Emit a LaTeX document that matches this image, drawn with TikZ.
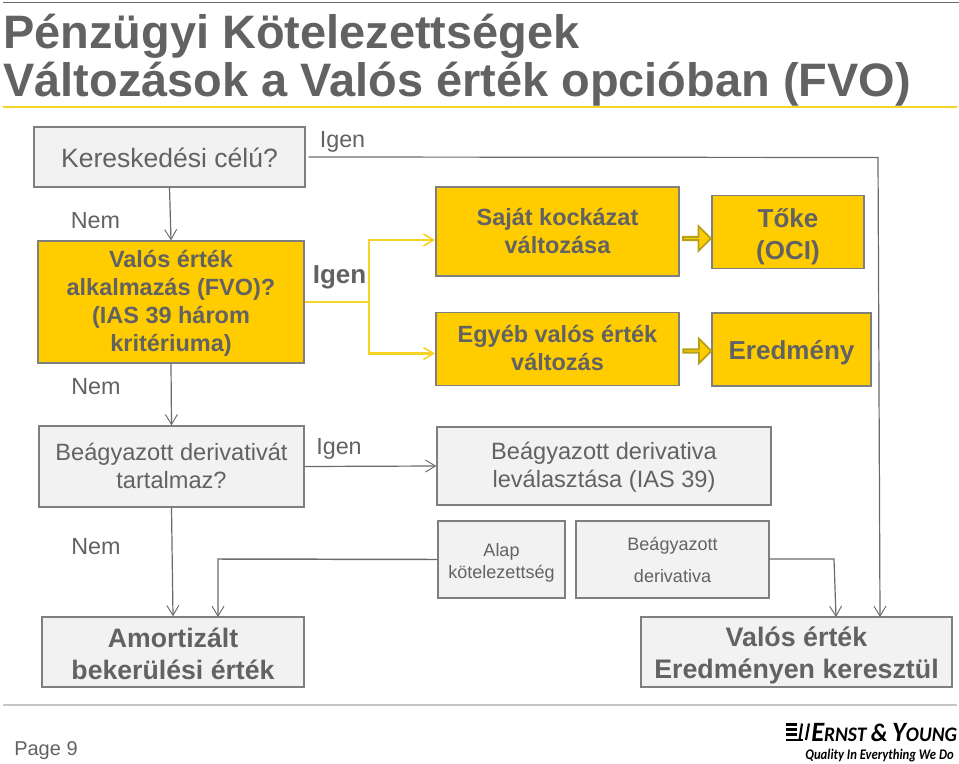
\documentclass[tikz,border=0pt]{standalone}
\usepackage{fontspec}
\setmainfont{Liberation Sans}
\newfontfamily\logofont{Carlito}
\usetikzlibrary{arrows.meta,shapes.arrows}
\newdimen\pxu \pxu=0.75pt
\definecolor{txt}{HTML}{626262}
\definecolor{edge}{HTML}{7F7F7F}
\definecolor{lne}{HTML}{6A6A6A}
\definecolor{ey}{HTML}{FFCC00}
\definecolor{eyline}{HTML}{F5D327}
\definecolor{gfill}{HTML}{F2F2F2}
\definecolor{blockedge}{HTML}{B5A01A}
\newcommand{\fsz}[2]{\fontsize{#1}{#2}\selectfont}
\newcommand{\lineup}[1]{\rule{0pt}{#1\baselineskip}}
\newcommand{\linedn}[1]{\rule[-#1\baselineskip]{0pt}{#1\baselineskip}}
\tikzset{
  x=0.75pt,y=-0.75pt,
  gbox/.style={draw=edge,line width=1pt,fill=gfill,text=txt,inner sep=0pt,align=center},
  ybox/.style={gbox,fill=ey},
  lbl/.style={text=txt,inner sep=0pt,align=center},
  conn/.style={draw=lne,line width=0.9pt,-{Straight Barb[length=7.5pt,width=9pt,line width=0.7pt]}},
  yconn/.style={draw=eyline,line width=1.7pt,-{Straight Barb[length=7.5pt,width=9pt,line width=1.2pt]}},
  blockarrow/.style={single arrow,draw=blockedge,fill=ey,line width=1.4pt,minimum height=21pt,minimum width=18.5pt,single arrow head extend=4.6pt,inner sep=0pt,outer sep=0pt}
}
\begin{document}
\begin{tikzpicture}
\useasboundingbox (0,0) rectangle (959,763);
% rules
\coordinate (ta) at (3,2.5); \coordinate (tb) at (959,2.5);
\draw[lne,line width=1pt] (ta) -- (tb);
\coordinate (ya) at (3,107); \coordinate (yb) at (957,107);
\draw[eyline,line width=2.2pt] (ya) -- (yb);
\coordinate (fa) at (3,705); \coordinate (fb) at (957,705);
\draw[gray!45,line width=1pt] (fa) -- (fb);
% title
\node[lbl,anchor=west,align=left,font=\bfseries\fsz{35.2}{36}] (title) at (3,60) {Pénzügyi Kötelezettségek\\Változások a Valós érték opcióban (FVO)};
% boxes
\node[gbox,minimum width=271\pxu,minimum height=60\pxu,font=\fsz{19.9}{24}] (ker) at (169.5,157) {\lineup{.82}Kereskedési célú?\linedn{.18}};
\node[ybox,minimum width=266\pxu,minimum height=122\pxu,font=\bfseries\fsz{17.6}{21}] (fvo) at (171,302) {\lineup{.78}Valós érték\\alkalmazás (FVO)?\\(IAS 39 három\\kritériuma)\linedn{.22}};
\node[ybox,minimum width=243\pxu,minimum height=89\pxu,font=\bfseries\fsz{17.6}{21}] (sajat) at (557.5,231.5) {\lineup{.78}Saját kockázat\\változása\linedn{.22}};
\node[ybox,minimum width=243\pxu,minimum height=73\pxu,font=\bfseries\fsz{17.6}{21}] (egyeb) at (557.5,349) {\lineup{.78}Egyéb valós érték\\változás\linedn{.22}};
\node[ybox,minimum width=152\pxu,minimum height=73\pxu,font=\bfseries\fsz{19.5}{24}] (toke) at (788,232) {\lineup{.86}Tőke\\(OCI)\linedn{.14}};
\node[ybox,minimum width=159\pxu,minimum height=73\pxu,font=\bfseries\fsz{19.5}{24}] (ered) at (791.5,349.5) {\lineup{.82}Eredmény\linedn{.18}};
\node[gbox,minimum width=265\pxu,minimum height=81\pxu,font=\fsz{17.7}{21}] (beagy) at (171.5,466.5) {\lineup{.78}Beágyazott derivativát\\tartalmaz?\linedn{.22}};
\node[gbox,minimum width=334\pxu,minimum height=78\pxu,font=\fsz{17.7}{21}] (lev) at (604,466) {\lineup{.78}Beágyazott derivativa\\leválasztása (IAS 39)\linedn{.22}};
\node[gbox,minimum width=127\pxu,minimum height=77\pxu,font=\fsz{13.5}{16.5}] (alap) at (501.5,559.5) {\lineup{.87}Alap\\kötelezettség\linedn{.13}};
\node[gbox,minimum width=193\pxu,minimum height=77\pxu,font=\fsz{13.5}{24}] (bd) at (672.5,559.5) {\lineup{.72}Beágyazott\\derivativa\linedn{.28}};
\node[gbox,minimum width=262\pxu,minimum height=70\pxu,font=\bfseries\fsz{20}{24}] (amort) at (173,652) {\lineup{.86}Amortizált\\bekerülési érték\linedn{.14}};
\node[gbox,minimum width=311\pxu,minimum height=70\pxu,font=\bfseries\fsz{20.1}{24}] (valos) at (796.5,652) {\lineup{.86}Valós érték\\Eredményen keresztül\linedn{.14}};
% labels
\node[lbl,font=\fsz{17.5}{21}] (i1) at (342.5,141.5) {Igen};
\node[lbl,font=\fsz{17.5}{21}] (n1) at (95.5,221) {Nem};
\node[lbl,font=\bfseries\fsz{19.5}{24}] (i2) at (339.5,277) {Igen};
\node[lbl,font=\fsz{17.5}{21}] (n2) at (96,387) {Nem};
\node[lbl,font=\fsz{17.5}{21}] (i3) at (339,449) {Igen};
\node[lbl,font=\fsz{17.5}{21}] (n3) at (96,547) {Nem};
\node[lbl,anchor=west,font=\fsz{15}{18}] (page) at (14,751) {Page 9};
% connectors
\coordinate (c1) at (878,157.5);
\coordinate (c2) at (880,617);
\draw[conn] ([xshift=3\pxu]ker.east) -- (c1) -- (c2);
\draw[conn] (ker.south) -- (fvo.north);
\draw[conn] (fvo.south) -- (beagy.north);
\draw[conn] (beagy.south) -- (amort.north);
\draw[conn] (beagy.east) -- (lev.west);
\coordinate (a1) at (218,559);
\coordinate (a2) at (218,617);
\draw[conn,line width=1.1pt] (alap.west) -- (a1) -- (a2);
\coordinate (b1) at (834,559);
\coordinate (b2) at (836,617);
\coordinate (b0) at (770,559);
\draw[conn] (b0) -- (b1) -- (b2);
\coordinate (j) at (369,302);
\coordinate (ju) at (369,240);
\coordinate (jd) at (369,353.5);
\coordinate (su) at (435,240);
\coordinate (sd) at (435,353.5);
\draw[eyline,line width=1.7pt] (fvo.east |- j) -- (j);
\draw[yconn] (j) -- (ju) -- (su);
\draw[yconn] (j) -- (jd) -- (sd);
% block arrows
\node[blockarrow] (ba1) at (696,238.5) {};
\node[blockarrow] (ba2) at (696.5,351) {};
% logo
\foreach \yy in {724.5,729.5,734.5}{\draw[black,line width=1.6pt] (786,\yy) -- (797,\yy);}
\draw[black,line width=1.6pt] (786,740) -- (803,740);
\draw[black,line width=1.6pt] (802,723.5) -- (799.5,740);
\draw[black,line width=1.6pt] (809,723.5) -- (806,740);
\node[anchor=base west,inner sep=0pt,text=black,font=\logofont\bfseries\itshape\fsz{21}{24}] (ey1) at (811,741) {\scalebox{.945}[1]{E{\fsz{15.5}{24}RNST}\,{\fsz{19}{24}\&}\,Y{\fsz{15.5}{24}OUNG}}};
\node[anchor=base east,inner sep=0pt,text=black,font=\logofont\bfseries\itshape\fsz{11}{13}] (ey2) at (954,759) {\scalebox{.865}[1]{Quality In Everything We Do}};
\end{tikzpicture}
\end{document}
